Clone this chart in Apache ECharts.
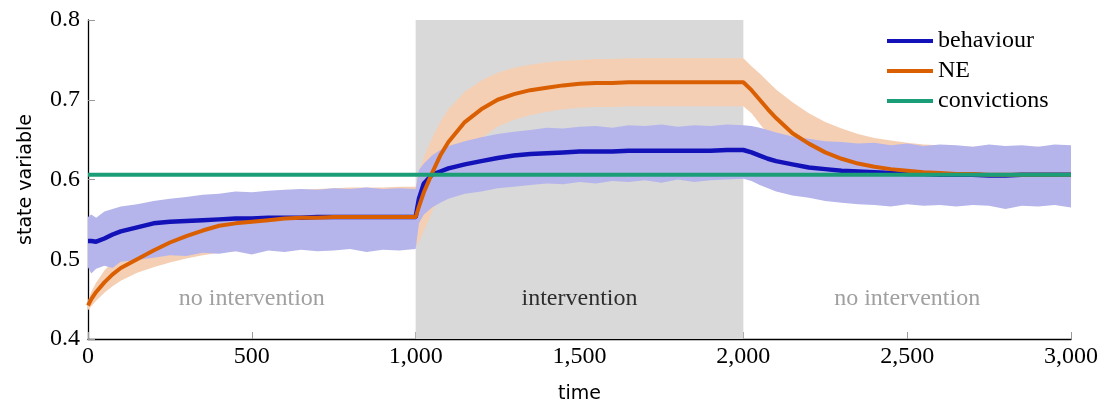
<!DOCTYPE html>
<html>
<head>
<meta charset="utf-8">
<script src="https://cdn.jsdelivr.net/npm/echarts@6/dist/echarts.min.js"></script>
<style>
  html, body { margin: 0; padding: 0; background: #fff; }
  #chart { width: 1106px; height: 408px; }
</style>
</head>
<body>
<div id="chart"></div>
<script>
// time samples (denser right after the switches at 1000 and 2000)
var times = [0, 10, 25, 50, 75, 100, 150, 200, 250, 300, 350, 400, 450, 500, 550, 600, 650, 700, 750, 800, 850, 900, 950, 1000,
  1010, 1025, 1050, 1075, 1100, 1150, 1200, 1250, 1300, 1350, 1400, 1450, 1500, 1550, 1600, 1650, 1700, 1750, 1800, 1850, 1900, 1950, 2000,
  2025, 2050, 2075, 2100, 2150, 2200, 2250, 2300, 2350, 2400, 2450, 2500, 2550, 2600, 2650, 2700, 2750, 2800, 2850, 2900, 2950, 3000];

var behaviour = [0.523, 0.523, 0.522, 0.526, 0.531, 0.535, 0.540, 0.545, 0.547, 0.548, 0.549, 0.550, 0.551, 0.551, 0.552, 0.552, 0.552, 0.553, 0.553, 0.553, 0.553, 0.553, 0.553, 0.553,
  0.576, 0.595, 0.606, 0.610, 0.614, 0.619, 0.623, 0.627, 0.630, 0.632, 0.633, 0.634, 0.635, 0.635, 0.635, 0.636, 0.636, 0.636, 0.636, 0.636, 0.636, 0.637, 0.637,
  0.634, 0.630, 0.626, 0.623, 0.619, 0.615, 0.613, 0.611, 0.610, 0.609, 0.608, 0.607, 0.607, 0.606, 0.606, 0.606, 0.605, 0.605, 0.606, 0.606, 0.606, 0.606];
var behaviourHigh = [0.553, 0.556, 0.552, 0.560, 0.563, 0.566, 0.569, 0.573, 0.576, 0.578, 0.581, 0.582, 0.585, 0.584, 0.586, 0.587, 0.588, 0.587, 0.589, 0.588, 0.590, 0.588, 0.589, 0.588,
  0.612, 0.620, 0.630, 0.637, 0.642, 0.648, 0.653, 0.657, 0.660, 0.662, 0.665, 0.664, 0.666, 0.667, 0.665, 0.668, 0.667, 0.669, 0.666, 0.668, 0.667, 0.669, 0.668,
  0.667, 0.665, 0.662, 0.659, 0.654, 0.651, 0.648, 0.647, 0.645, 0.646, 0.643, 0.645, 0.642, 0.644, 0.643, 0.641, 0.644, 0.642, 0.643, 0.641, 0.644, 0.643];
var behaviourLow = [0.490, 0.482, 0.488, 0.492, 0.489, 0.497, 0.499, 0.502, 0.505, 0.504, 0.508, 0.507, 0.510, 0.506, 0.511, 0.509, 0.512, 0.510, 0.511, 0.513, 0.509, 0.512, 0.511, 0.513,
  0.545, 0.556, 0.565, 0.571, 0.576, 0.582, 0.585, 0.589, 0.591, 0.593, 0.595, 0.594, 0.597, 0.595, 0.598, 0.597, 0.599, 0.596, 0.600, 0.597, 0.599, 0.600, 0.601,
  0.598, 0.593, 0.589, 0.585, 0.580, 0.577, 0.573, 0.571, 0.569, 0.568, 0.566, 0.569, 0.567, 0.568, 0.566, 0.568, 0.567, 0.563, 0.567, 0.566, 0.568, 0.565];

var ne = [0.442, 0.450, 0.459, 0.471, 0.481, 0.489, 0.500, 0.511, 0.521, 0.529, 0.536, 0.542, 0.545, 0.547, 0.549, 0.551, 0.552, 0.552, 0.553, 0.553, 0.553, 0.553, 0.553, 0.553,
  0.566, 0.584, 0.608, 0.630, 0.647, 0.672, 0.688, 0.700, 0.707, 0.712, 0.715, 0.718, 0.720, 0.721, 0.721, 0.722, 0.722, 0.722, 0.722, 0.722, 0.722, 0.722, 0.722,
  0.712, 0.700, 0.688, 0.677, 0.658, 0.645, 0.634, 0.626, 0.620, 0.616, 0.613, 0.611, 0.609, 0.608, 0.607, 0.607, 0.606, 0.606, 0.606, 0.606, 0.606, 0.606];
var neHigh = [0.448, 0.459, 0.471, 0.486, 0.497, 0.507, 0.522, 0.534, 0.545, 0.555, 0.563, 0.569, 0.575, 0.579, 0.582, 0.585, 0.587, 0.588, 0.589, 0.590, 0.590, 0.590, 0.591, 0.591,
  0.610, 0.628, 0.652, 0.672, 0.688, 0.710, 0.724, 0.734, 0.740, 0.744, 0.747, 0.749, 0.750, 0.751, 0.751, 0.752, 0.752, 0.752, 0.752, 0.752, 0.752, 0.752, 0.752,
  0.742, 0.733, 0.723, 0.713, 0.697, 0.683, 0.672, 0.664, 0.657, 0.652, 0.649, 0.646, 0.644, 0.643, 0.642, 0.641, 0.641, 0.641, 0.641, 0.641, 0.641, 0.641];
var neLow = [0.436, 0.441, 0.448, 0.458, 0.466, 0.473, 0.483, 0.490, 0.496, 0.501, 0.505, 0.508, 0.510, 0.512, 0.513, 0.514, 0.515, 0.515, 0.516, 0.516, 0.516, 0.516, 0.517, 0.517,
  0.522, 0.535, 0.560, 0.584, 0.603, 0.632, 0.652, 0.666, 0.675, 0.681, 0.685, 0.688, 0.690, 0.691, 0.691, 0.692, 0.692, 0.692, 0.692, 0.692, 0.692, 0.692, 0.692,
  0.683, 0.670, 0.657, 0.645, 0.625, 0.610, 0.598, 0.590, 0.584, 0.580, 0.577, 0.575, 0.573, 0.572, 0.572, 0.571, 0.571, 0.571, 0.571, 0.571, 0.571, 0.571];

var convictionTimes = [0, 3000];
var convictions = [0.606, 0.606];

// shaded intervention period
var interventionStart = 1000;
var interventionEnd = 2000;

// annotations
var noteX = [500, 1500, 2500];
var noteY = [0.45, 0.45, 0.45];
var noteText = ['no intervention', 'intervention', 'no intervention'];

var serif = 'Liberation Serif';
var sans = 'DejaVu Sans';

function pairs(xs, ys) {
  return xs.map(function (x, i) { return [x, ys[i]]; });
}

// band between lo and hi drawn as one polygon through the axis scales
function bandSeries(name, lo, hi, fill) {
  return {
    name: name, type: 'custom', silent: true, z: 2,
    data: [0],
    renderItem: function (params, api) {
      var pts = [];
      for (var i = 0; i < times.length; i++) pts.push(api.coord([times[i], hi[i]]));
      for (var j = times.length - 1; j >= 0; j--) pts.push(api.coord([times[j], lo[j]]));
      return { type: 'polygon', shape: { points: pts }, style: { fill: fill } };
    }
  };
}

var chart = echarts.init(document.getElementById('chart'));

var option = {
  animation: false,
  grid: { left: 88, right: 35, top: 20, bottom: 69, outerBoundsMode: 'none', containLabel: false },
  legend: {
    data: ['behaviour', 'NE', 'convictions'],
    orient: 'vertical',
    left: 887,
    top: 29,
    padding: 0,
    itemGap: 6,
    itemWidth: 46,
    itemHeight: 4,
    icon: 'rect',
    textStyle: { fontFamily: serif, fontSize: 24, color: '#000', lineHeight: 24 }
  },
  xAxis: {
    type: 'value',
    min: 0, max: 3000, interval: 500,
    name: 'time',
    nameLocation: 'middle',
    nameGap: 46,
    nameTextStyle: { fontFamily: sans, fontSize: 19, color: '#000' },
    axisLine: { lineStyle: { color: '#000', width: 1.3 } },
    axisTick: { inside: true, length: 7, lineStyle: { color: '#999' } },
    axisLabel: {
      margin: 6, fontFamily: serif, fontSize: 24, color: '#000',
      formatter: function (v) { return v.toLocaleString('en-US'); }
    },
    splitLine: { show: false }
  },
  yAxis: {
    type: 'value',
    min: 0.4, max: 0.8, interval: 0.1,
    name: 'state variable',
    nameLocation: 'middle',
    nameGap: 52,
    nameTextStyle: { fontFamily: sans, fontSize: 19, color: '#000' },
    axisLine: { show: true, lineStyle: { color: '#000', width: 1.3 } },
    axisTick: { show: true, inside: true, length: 7, lineStyle: { color: '#999' } },
    axisLabel: {
      margin: 8, fontFamily: serif, fontSize: 24, color: '#000',
      formatter: function (v) { return v.toFixed(1); }
    },
    splitLine: { show: false }
  },
  series: [
    bandSeries('neBand', neLow, neHigh, '#f5cfb3'),
    bandSeries('behaviourBand', behaviourLow, behaviourHigh, '#b5b5eb'),
    {
      name: 'behaviour', type: 'line', symbol: 'none', z: 3,
      color: '#1212b8',
      lineStyle: { color: '#1212b8', width: 4.5 },
      data: pairs(times, behaviour)
    },
    {
      name: 'NE', type: 'line', symbol: 'none', z: 3,
      color: '#d95f02',
      lineStyle: { color: '#d95f02', width: 4 },
      data: pairs(times, ne)
    },
    {
      name: 'convictions', type: 'line', symbol: 'none', z: 3,
      color: '#1b9e77',
      lineStyle: { color: '#1b9e77', width: 4 },
      data: pairs(convictionTimes, convictions),
      markArea: {
        silent: true,
        itemStyle: { color: '#d9d9d9' },
        label: { show: false },
        data: [[{ xAxis: interventionStart }, { xAxis: interventionEnd }]]
      }
    },
    {
      name: 'notes', type: 'scatter', symbolSize: 1, z: 4, silent: true,
      itemStyle: { color: 'transparent' },
      label: {
        show: true, position: 'inside', fontFamily: serif, fontSize: 24,
        formatter: function (p) { return p.data.text; }
      },
      data: noteX.map(function (x, i) {
        var inside = x > interventionStart && x < interventionEnd;
        return {
          value: [x, noteY[i]],
          text: noteText[i],
          label: { color: inside ? '#000' : '#888' }
        };
      })
    }
  ]
};

chart.setOption(option);
</script>
</body>
</html>
